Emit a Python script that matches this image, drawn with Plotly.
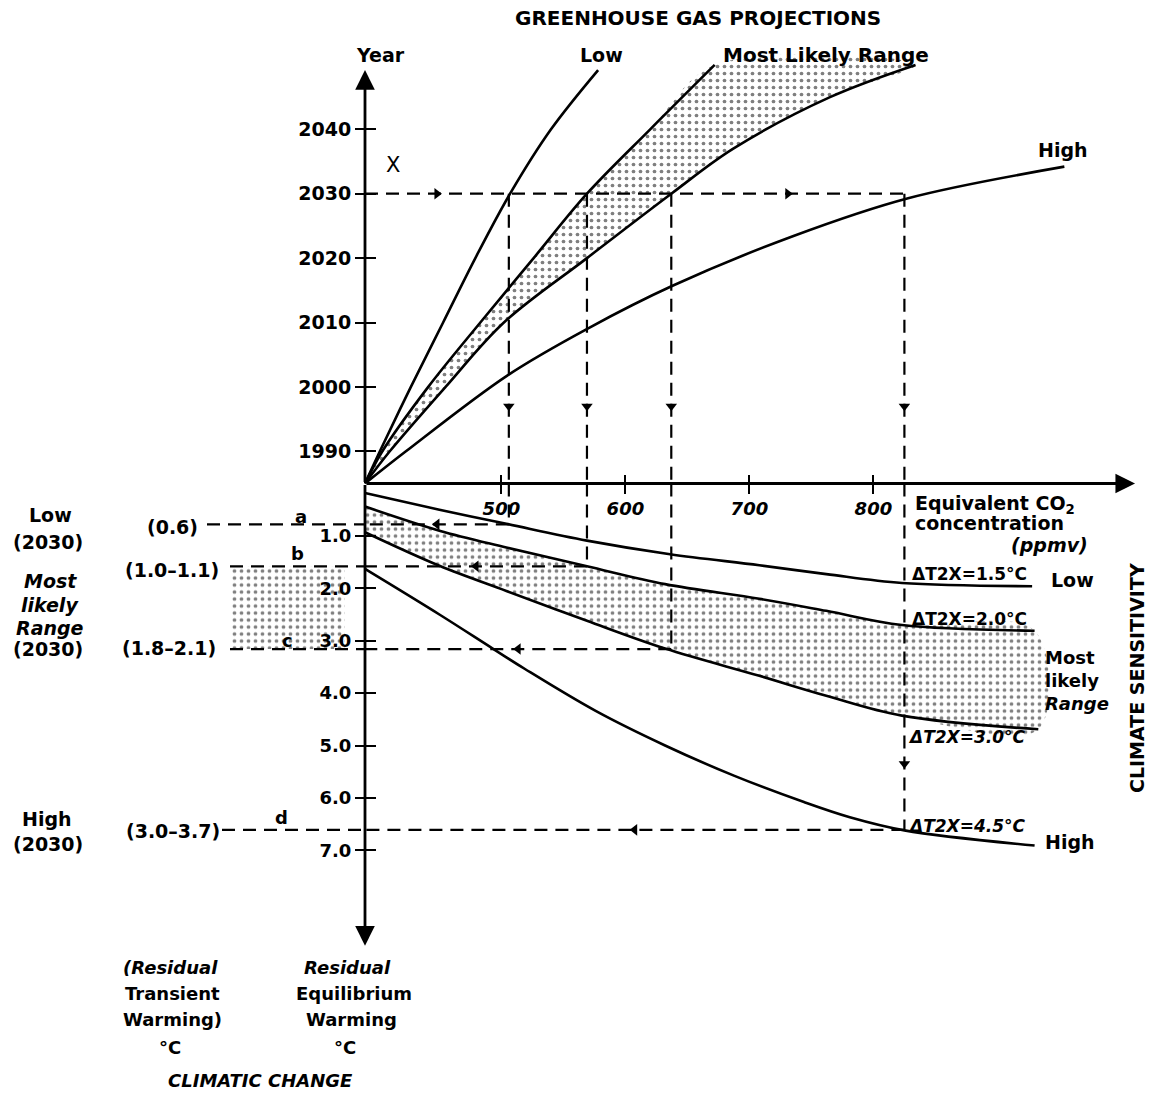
import plotly.graph_objects as go

W, H = 1150, 1095
FONT = "DejaVu Sans"

# ---------------- data ----------------
base_year = 1985
conc_1985 = 390                     # equivalent CO2 at the origin (ppmv)
year_ticks = [1990, 2000, 2010, 2020, 2030, 2040]
warm_ticks = [1.0, 2.0, 3.0, 4.0, 5.0, 6.0, 7.0]
conc_ticks = [500, 600, 700, 800]

# Greenhouse gas projections: year vs equivalent CO2 (ppmv)
low_year = [1985, 1990, 2000, 2010, 2020, 2030, 2040, 2049.2]
low_ppm = [390, 402, 427, 453, 479, 507, 540, 578]

mlu_year = [1985, 1990, 2000, 2010, 2020, 2030, 2040, 2050]
mlu_ppm = [390, 404, 441, 483, 526, 569, 620, 672]

mll_year = [1985, 1990, 2000, 2010, 2020, 2030, 2037, 2045, 2050]
mll_ppm = [390, 410, 455, 502, 569, 637, 687, 765, 834]

high_year = [1985, 1990, 2001.8, 2009.1, 2015.7, 2023.4, 2029.3, 2034.2]
high_ppm = [390, 423, 505, 570, 638, 735, 828, 954]

# Residual equilibrium warming (deg C) vs equivalent CO2 for each climate sensitivity
s15_ppm = [390, 450, 504, 569, 636, 708, 762, 823, 928]
s15_w = [0.18, 0.50, 0.77, 1.09, 1.35, 1.56, 1.73, 1.90, 1.96]

s20_ppm = [390, 450, 504, 569, 632, 708, 762, 823, 930]
s20_w = [0.44, 0.90, 1.22, 1.58, 1.92, 2.20, 2.43, 2.70, 2.81]

s30_ppm = [390, 450, 504, 569, 632, 708, 762, 823, 933]
s30_w = [0.93, 1.57, 2.05, 2.62, 3.15, 3.67, 4.05, 4.43, 4.69]

s45_ppm = [390, 450, 493, 519, 576, 632, 688, 744, 781, 825, 930]
s45_w = [1.63, 2.50, 3.15, 3.54, 4.34, 5.00, 5.58, 6.08, 6.37, 6.62, 6.91]

# 2030 read-offs
proj_year = 2030
conc_2030 = [506, 569, 637, 825]          # Low, ML low end, ML high end, High
warm_2030 = [0.78, 1.58, 3.16, 6.61]      # a, b, c, d
transient_labels = ["(0.6)", "(1.0\u20131.1)", "(1.8\u20132.1)", "(3.0\u20133.7)"]
guide_letters = ["a", "b", "c", "d"]

# ---------------- layout geometry (pixels) ----------------
ORIGIN_PX, ORIGIN_PY = 365, 483.5
PX_PER_PPM, PX_PER_YEAR, PX_PER_DEG = 1.24, 6.44, 52.4
split = 1 - ORIGIN_PY / H
axis_pos = ORIGIN_PX / W
x_range = [conc_1985 - ORIGIN_PX / PX_PER_PPM, conc_1985 + (W - ORIGIN_PX) / PX_PER_PPM]
y_up_range = [base_year, base_year + ORIGIN_PY / PX_PER_YEAR]
y_lo_range = [(H - ORIGIN_PY) / PX_PER_DEG, 0]

SMOOTH = 1.0
LINE = dict(color="black", width=2.6, shape="spline", smoothing=SMOOTH)
DASH = dict(color="black", width=2.2, dash="13px,8px")
PATTERN = dict(shape=".", fgcolor="black", bgcolor="white", size=7, solidity=0.22)

fig = go.Figure()

# shaded most likely range (projections)
fig.add_trace(go.Scatter(
    x=mlu_ppm + mll_ppm[::-1], y=mlu_year + mll_year[::-1],
    mode="lines", fill="toself", fillpattern=PATTERN, fillcolor="white",
    line=dict(width=0, shape="spline", smoothing=SMOOTH), hoverinfo="skip",
    xaxis="x", yaxis="y"))
# shaded most likely range (warming)
fig.add_trace(go.Scatter(
    x=s20_ppm + s30_ppm[::-1], y=s20_w + s30_w[::-1],
    mode="lines", fill="toself", fillpattern=PATTERN, fillcolor="white",
    line=dict(width=0, shape="spline", smoothing=SMOOTH), hoverinfo="skip",
    xaxis="x", yaxis="y2"))
# shaded box for transient range b-c at the left
box_x = [230 / W, 345 / W, 345 / W, 230 / W]
fig.add_trace(go.Scatter(
    x=box_x, y=[warm_2030[1], warm_2030[1], warm_2030[2], warm_2030[2]],
    mode="lines", fill="toself", fillpattern=PATTERN, fillcolor="white",
    line=dict(width=0), hoverinfo="skip", xaxis="x3", yaxis="y2"))

# projection curves
for xs, ys in [(low_ppm, low_year), (mlu_ppm, mlu_year), (mll_ppm, mll_year), (high_ppm, high_year)]:
    fig.add_trace(go.Scatter(x=xs, y=ys, mode="lines", line=LINE, xaxis="x", yaxis="y"))
# warming curves
for xs, ys in [(s15_ppm, s15_w), (s20_ppm, s20_w), (s30_ppm, s30_w), (s45_ppm, s45_w)]:
    fig.add_trace(go.Scatter(x=xs, y=ys, mode="lines", line=LINE, xaxis="x", yaxis="y2"))

# dashed guides, upper panel
gx, gy = [conc_1985, max(conc_2030), None], [proj_year, proj_year, None]
for c in conc_2030:
    gx += [c, c, None]
    gy += [proj_year, base_year, None]
fig.add_trace(go.Scatter(x=gx, y=gy, mode="lines", line=DASH, xaxis="x", yaxis="y"))
# dashed guides, lower panel
lx, ly = [], []
for c, w in zip(conc_2030, warm_2030):
    lx += [c, c, None, c, conc_1985, None]
    ly += [0, w, None, w, w, None]
fig.add_trace(go.Scatter(x=lx, y=ly, mode="lines", line=DASH, xaxis="x", yaxis="y2"))

# arrowheads on guides
arrow_year = 1997
fig.add_trace(go.Scatter(
    x=[(conc_1985 + conc_2030[0]) / 2, (conc_2030[2] + conc_2030[3]) / 2], y=[proj_year] * 2,
    mode="markers", marker=dict(symbol="triangle-right", size=10, color="black"),
    xaxis="x", yaxis="y"))
fig.add_trace(go.Scatter(
    x=conc_2030, y=[arrow_year] * len(conc_2030),
    mode="markers", marker=dict(symbol="triangle-down", size=10, color="black"),
    xaxis="x", yaxis="y"))
fig.add_trace(go.Scatter(
    x=[(conc_1985 + c) / 2 for c in conc_2030], y=warm_2030,
    mode="markers", marker=dict(symbol="triangle-left", size=10, color="black"),
    xaxis="x", yaxis="y2"))
fig.add_trace(go.Scatter(
    x=[conc_2030[3]], y=[5.35],
    mode="markers", marker=dict(symbol="triangle-down", size=10, color="black"),
    xaxis="x", yaxis="y2"))

# dummy traces so that overlay axes (crossing ticks) are drawn
fig.add_trace(go.Scatter(x=[None], y=[None], xaxis="x2", yaxis="y"))
fig.add_trace(go.Scatter(x=[None], y=[None], xaxis="x", yaxis="y3"))
fig.add_trace(go.Scatter(x=[None], y=[None], xaxis="x", yaxis="y4"))

# dashed guides left of the warming axis (to the transient labels)
guide_left_px = [207, 230, 230, 222]
shapes = []
for lpx, w in zip(guide_left_px, warm_2030):
    shapes.append(dict(type="line", xref="paper", yref="y2", x0=lpx / W, x1=axis_pos,
                       y0=w, y1=w, line=DASH))


def txt(text, px, py, size=19, bold=True, italic=False, xanchor="center", angle=0):
    return dict(text=text, x=px / W, y=1 - py / H, xref="paper", yref="paper",
                showarrow=False, xanchor=xanchor, yanchor="middle", textangle=angle,
                font=dict(family=FONT, size=size, color="black",
                          weight="bold" if bold else "normal",
                          style="italic" if italic else "normal"))


def axis_arrow(x, y, ax, ay, yref):
    return dict(x=x, y=y, ax=ax, ay=ay, xref="x", yref=yref, axref="x", ayref=yref,
                text="", showarrow=True, arrowhead=2, arrowsize=1.4, arrowwidth=2.8,
                arrowcolor="black", standoff=0, startstandoff=0)


ann = [
    axis_arrow(conc_1985, 2049.2, conc_1985, base_year, "y"),
    axis_arrow(conc_1985, 8.82, conc_1985, 0, "y2"),
    axis_arrow(1011, base_year, conc_1985, base_year, "y"),
    txt("GREENHOUSE GAS PROJECTIONS", 698, 18, size=20),
    txt("Year", 380, 55),
    txt("Low", 601, 55),
    txt("Most Likely Range", 826, 55, size=20),
    txt("High", 1063, 150),
    txt("X", 393, 165, size=21, bold=False),
    txt("Equivalent CO<sub>2</sub>", 913, 504, xanchor="left"),
    txt("concentration", 913, 523, xanchor="left"),
    txt("(ppmv)", 1090, 545, italic=True, xanchor="right"),
    txt("\u0394T2X=1.5\u00b0C", 910, 574, size=17, xanchor="left"),
    txt("Low", 1072, 580),
    txt("\u0394T2X=2.0\u00b0C", 910, 619, size=17, xanchor="left"),
    txt("Most", 1043, 657, size=18, xanchor="left"),
    txt("likely", 1043, 680, size=18, xanchor="left"),
    txt("Range", 1043, 703, size=18, italic=True, xanchor="left"),
    txt("\u0394T2X=3.0\u00b0C", 906, 737, size=17, italic=True, xanchor="left"),
    txt("\u0394T2X=4.5\u00b0C", 906, 826, size=17, italic=True, xanchor="left"),
    txt("High", 1070, 842),
    txt("CLIMATE SENSITIVITY", 1137, 678, size=19, angle=-90),
    txt("Low", 50, 515),
    txt("(2030)", 48, 542),
    txt("Most", 50, 581, italic=True),
    txt("likely", 50, 605, italic=True),
    txt("Range", 50, 628, italic=True),
    txt("(2030)", 48, 649),
    txt("High", 47, 819),
    txt("(2030)", 48, 844),
    txt("(Residual", 170, 967, size=18, italic=True),
    txt("Transient", 172, 993, size=18),
    txt("Warming)", 173, 1019, size=18),
    txt("\u00b0C", 170, 1047, size=18),
    txt("Residual", 347, 967, size=18, italic=True),
    txt("Equilibrium", 354, 993, size=18),
    txt("Warming", 351, 1019, size=18),
    txt("\u00b0C", 345, 1047, size=18),
    txt("CLIMATIC CHANGE", 260, 1080, size=18, italic=True),
]
label_px = [(172, 527), (172, 570), (169, 648), (173, 831)]
letter_px = [(301, 516), (297, 553), (287, 640), (281, 817)]
for t, (px, py) in zip(transient_labels, label_px):
    ann.append(txt(t, px, py))
for t, (px, py) in zip(guide_letters, letter_px):
    ann.append(txt(t, px, py, size=18))

tickfont = dict(family=FONT, size=19, color="black", weight="bold")
common = dict(showgrid=False, zeroline=False, showline=False, tickcolor="black", tickwidth=2)

fig.update_layout(
    width=W, height=H, autosize=False,
    margin=dict(l=0, r=0, t=0, b=0, pad=0),
    paper_bgcolor="white", plot_bgcolor="white", showlegend=False,
    xaxis=dict(domain=[0, 1], range=x_range, anchor="y", tickvals=conc_ticks,
               ticks="outside", ticklen=9,
               tickfont=dict(family=FONT, size=18, color="black", weight="bold", style="italic"),
               **common),
    xaxis2=dict(overlaying="x", range=x_range, anchor="y", tickvals=conc_ticks,
                ticks="inside", ticklen=9, showticklabels=False, **common),
    xaxis3=dict(overlaying="x", range=[0, 1], anchor="y2", visible=False),
    yaxis=dict(domain=[split, 1], range=y_up_range, anchor="free", position=axis_pos,
               tickvals=year_ticks, ticks="outside", ticklen=10, tickfont=tickfont, **common),
    yaxis3=dict(overlaying="y", range=y_up_range, anchor="free", position=axis_pos,
                tickvals=year_ticks, ticks="inside", ticklen=10, showticklabels=False, **common),
    yaxis2=dict(domain=[0, split], range=y_lo_range, anchor="free", position=axis_pos,
                tickvals=warm_ticks, ticktext=[f"{v:.1f}" for v in warm_ticks],
                ticks="outside", ticklen=10,
                tickfont=dict(family=FONT, size=18, color="black", weight="bold"), **common),
    yaxis4=dict(overlaying="y2", range=y_lo_range, anchor="free", position=axis_pos,
                tickvals=warm_ticks, ticks="inside", ticklen=10, showticklabels=False, **common),
    shapes=shapes,
    annotations=ann,
)

# remove the default 8px page margin so the figure fills the window exactly
fig.write_html("out.html", config={"displayModeBar": False},
               post_script="document.body.style.margin='0px';")
